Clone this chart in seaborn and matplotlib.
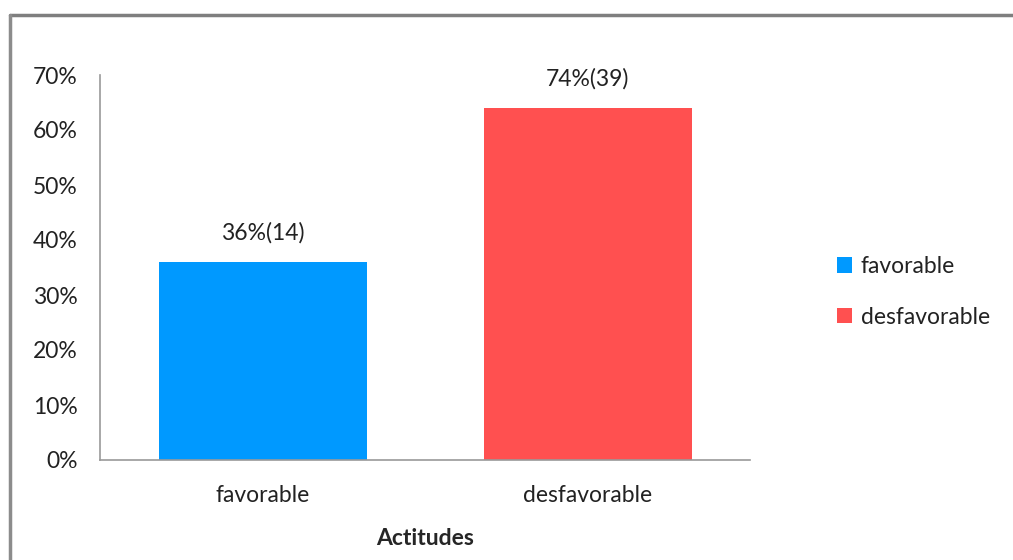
import matplotlib
matplotlib.use("Agg")
import matplotlib.pyplot as plt
from matplotlib.patches import Patch
import seaborn as sns
import pandas as pd

categories = ["favorable", "desfavorable"]
values = [0.36, 0.64]
bar_labels = ["36%(14)", "74%(39)"]
colors = ["#0099FF", "#FF5050"]
y_ticks = [0, 0.1, 0.2, 0.3, 0.4, 0.5, 0.6, 0.7]
y_tick_labels = ["0%", "10%", "20%", "30%", "40%", "50%", "60%", "70%"]

sns.set_style("white")
plt.rcParams["font.family"] = ["Lato", "DejaVu Sans"]
fs = 16.5

df = pd.DataFrame({"actitud": categories, "pct": values})

fig = plt.figure(figsize=(10.13, 5.6), dpi=100)
ax = fig.add_axes([100 / 1013, 1 - 460 / 560, 650 / 1013, 385 / 560])

sns.barplot(data=df, x="actitud", y="pct", hue="actitud", palette=colors,
            width=0.64, legend=False, ax=ax, saturation=1, linewidth=0)

for cont, lab in zip(ax.containers, bar_labels):
    ax.bar_label(cont, labels=[lab], padding=13, fontsize=fs, color="#222222")

ax.set_xlim(-0.5, 1.5)
ax.set_ylim(0, 0.7)
ax.set_yticks(y_ticks)
ax.set_yticklabels(y_tick_labels, fontsize=fs, color="#222222")
ax.tick_params(axis="y", length=0, pad=16)
ax.tick_params(axis="x", length=0, pad=18, labelsize=fs, labelcolor="#222222")
ax.set_ylabel("")
ax.set_xlabel("Actitudes", fontsize=fs, fontweight="bold", labelpad=16)

for side in ["top", "right"]:
    ax.spines[side].set_visible(False)
for side in ["left", "bottom"]:
    ax.spines[side].set_color("#999999")
    ax.spines[side].set_linewidth(1.2)

handles = [Patch(facecolor=c, edgecolor="none") for c in colors]
fig.legend(handles, categories, loc="center left", bbox_to_anchor=(816 / 1013, 1 - 292 / 560),
           frameon=False, fontsize=fs, handlelength=0.65, handleheight=0.65,
           handletextpad=0.4, labelspacing=1.3, labelcolor="#222222")

# outer frame
fig.add_artist(plt.Line2D([10 / 1013, 1], [1 - 15 / 560, 1 - 15 / 560],
                          transform=fig.transFigure, color="#7f7f7f", lw=2.5))
fig.add_artist(plt.Line2D([10 / 1013, 10 / 1013], [0, 1 - 15 / 560],
                          transform=fig.transFigure, color="#8c8c8c", lw=2.5))

fig.savefig("out.png", dpi=100)
